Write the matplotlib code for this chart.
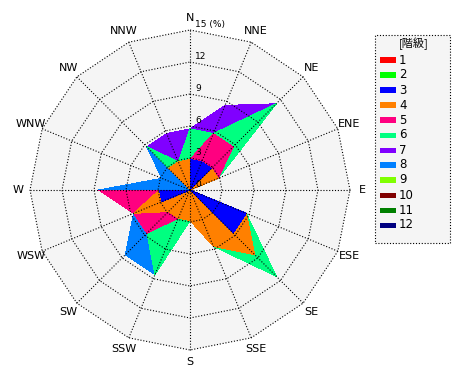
import numpy as np
import matplotlib
matplotlib.use("Agg")
import matplotlib.pyplot as plt
from matplotlib.patches import Rectangle

# ---------------- data ----------------
directions = ["N", "NNE", "NE", "ENE", "E", "ESE", "SE", "SSE",
              "S", "SSW", "SW", "WSW", "W", "WNW", "NW", "NNW"]
class_labels = ["1", "2", "3", "4", "5", "6", "7", "8", "9", "10", "11", "12"]
class_colors = ["#ff0000", "#00ff00", "#0000ff", "#ff8000", "#ff0080", "#00ff80",
                "#8000ff", "#0080ff", "#80ff00", "#800000", "#008000", "#000080"]
ring_ticks = [0, 3, 6, 9, 12, 15]

# frequency (%) of each class per direction (N, NNE, ... NNW)
cls1 = [0, 0, 0, 0, 0, 0, 0, 0, 0, 0, 0, 0, 0, 0, 0, 0]
cls2 = [0, 0, 0, 0, 0, 0, 0, 0, 0, 0, 0, 0, 0, 0, 0, 0]
cls3 = [2.86, 2.86, 2.86, 0, 0, 5.71, 5.71, 0, 0, 0, 0, 2.86, 2.86, 0, 0, 0]
cls4 = [0, 0, 0, 2.86, 0, 0, 2.86, 5.71, 2.86, 2.86, 2.86, 2.86, 0, 0, 2.86, 2.86]
cls5 = [0, 2.86, 2.86, 0, 0, 0, 0, 0, 0, 0, 2.86, 0, 5.71, 0, 0, 0]
cls6 = [2.86, 0, 5.71, 0, 0, 0, 2.86, 0, 0, 5.71, 0, 0, 0, 0, 2.86, 0]
cls7 = [0, 2.86, 0, 0, 0, 0, 0, 0, 0, 0, 0, 0, 0, 0, 0, 2.86]
cls8 = [0, 0, 0, 0, 0, 0, 0, 0, 0, 0, 2.86, 0, 0, 2.86, 0, 0]
cls9 = [0, 0, 0, 0, 0, 0, 0, 0, 0, 0, 0, 0, 0, 0, 0, 0]
cls10 = [0, 0, 0, 0, 0, 0, 0, 0, 0, 0, 0, 0, 0, 0, 0, 0]
cls11 = [0, 0, 0, 0, 0, 0, 0, 0, 0, 0, 0, 0, 0, 0, 0, 0]
cls12 = [0, 0, 0, 0, 0, 0, 0, 0, 0, 0, 0, 0, 0, 0, 0, 0]
values = [cls1, cls2, cls3, cls4, cls5, cls6, cls7, cls8, cls9, cls10, cls11, cls12]

# ---------------- layout ----------------
W, H = 470, 380
fig = plt.figure(figsize=(W / 100, H / 100), dpi=100)
fig.patch.set_facecolor("white")
ax = fig.add_axes([0, 0, 1, 1])
rmax = 15
k = 160 / rmax          # pixels per percent
cx, cy = 190, 190       # centre in pixels
ax.set_xlim(-cx / k, (W - cx) / k)
ax.set_ylim(-(H - cy) / k, cy / k)
ax.axis("off")

n = len(directions)
theta = np.deg2rad(np.arange(n) * 360.0 / n)
label_font = ["Liberation Sans Narrow", "DejaVu Sans"]


def xy(r):
    r = np.asarray(r, dtype=float)
    return r * np.sin(theta), r * np.cos(theta)


# plot background
bx, by = xy(np.full(n, rmax))
ax.fill(bx, by, color="#f5f5f5", lw=0, zorder=0)

# stacked (cumulative) polygons, outermost first
cum = np.cumsum(np.array(values, dtype=float), axis=0)
for i in range(len(values) - 1, -1, -1):
    if np.allclose(cum[i], 0):
        continue
    x, y = xy(cum[i])
    ax.fill(x, y, color=class_colors[i], lw=0, zorder=1, antialiased=False)

# grid
dot = (0, (1, 1.6))
for t in ring_ticks[1:]:
    x, y = xy(np.full(n, t))
    ax.plot(np.append(x, x[0]), np.append(y, y[0]), color="black",
            lw=0.8, linestyle=dot, zorder=3)
for th in theta:
    ax.plot([0, rmax * np.sin(th)], [0, rmax * np.cos(th)], color="black",
            lw=0.8, linestyle=dot, zorder=3)

# ring labels
for t in ring_ticks:
    lab = f"{t}" if t != rmax else f"{t} (%)"
    ax.text(0.5, t + 0.05, lab, fontsize=6.5, ha="left", va="bottom",
            family="DejaVu Sans", zorder=4)

# direction labels
rl = 16.15
for d, th in zip(directions, theta):
    ax.text(rl * np.sin(th), rl * np.cos(th), d, fontsize=8, ha="center",
            va="center", family=label_font, zorder=4)

# legend
def fx(px):
    return px / W


def fy(py):
    return 1 - py / H


fig.patches.append(Rectangle((fx(375), fy(243)), fx(450) - fx(375), fy(35) - fy(243),
                             transform=fig.transFigure, facecolor="#f5f5f5",
                             edgecolor="black", lw=0.8, linestyle=dot))
fig.text(fx(414), fy(44), "[階級]", fontsize=8, ha="center", va="center",
         family=["Noto Sans CJK JP", "DejaVu Sans"])
for i, (lab, col) in enumerate(zip(class_labels, class_colors)):
    yy = 60 + 15 * i
    fig.patches.append(Rectangle((fx(380), fy(yy + 2.5)), fx(396) - fx(380), 5 / H,
                                 transform=fig.transFigure, facecolor=col, lw=0))
    fig.text(fx(399), fy(yy), lab, fontsize=8.5, ha="left", va="center",
             family="DejaVu Sans")

fig.savefig("out.png", dpi=100)
